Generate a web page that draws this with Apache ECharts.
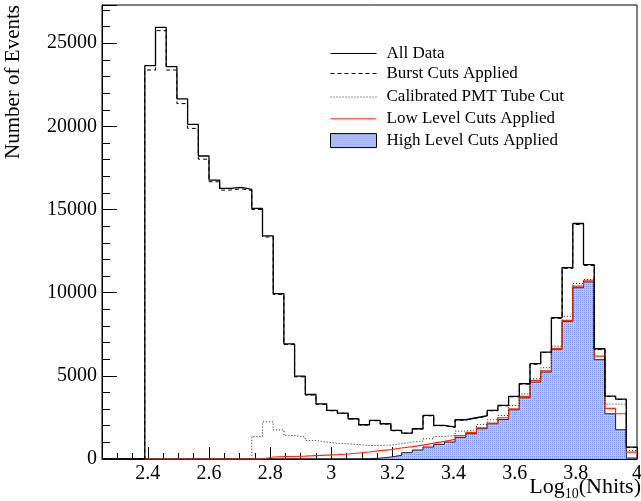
<!DOCTYPE html>
<html>
<head>
<meta charset="utf-8">
<script src="https://cdn.jsdelivr.net/npm/echarts@6/dist/echarts.min.js"></script>
<style>
  html, body { margin: 0; padding: 0; background: #fff; }
  #chart { width: 641px; height: 501px; }
</style>
</head>
<body>
<div id="chart"></div>
<script>
// binning: 50 bins of 0.035 from 2.25 to 4.0
const binStart = 2.25;
const binWidth = 0.035;
const xTickLabels = [2.4, 2.6, 2.8, 3, 3.2, 3.4, 3.6, 3.8, 4];

const allData = [
  0, 0, 0, 0, 23650, 25960, 23600, 21650, 20120, 18220,
  16770, 16270, 16330, 16210, 15070, 13420, 9950, 6920, 4980, 3880,
  3320, 2920, 2760, 2420, 2060, 2320, 2120, 1720, 1560, 1820,
  2620, 2020, 1920, 2360, 2480, 2600, 2920, 3220, 3760, 4530,
  5730, 6430, 8500, 11510, 14160, 11690, 6630, 3780, 3600, 710
];
const burstCuts = [
  0, 0, 0, 0, 23390, 25760, 23390, 21370, 19880, 18030,
  16670, 16170, 16250, 16140, 15000, 13350, 9900, 6880, 4940, 3850,
  3290, 2900, 2740, 2400, 2040, 2300, 2100, 1700, 1550, 1800,
  2600, 2000, 1900, 2340, 2460, 2580, 2900, 3200, 3740, 4500,
  5700, 6400, 8460, 11460, 14100, 11640, 6600, 3760, 3580, 700
];
const pmtCut = [
  0, 0, 0, 0, 0, 0, 0, 0, 0, 0,
  0, 0, 0, 0, 1355, 2230, 1750, 1415, 1315, 1110,
  1015, 950, 915, 870, 810, 810, 840, 915, 1015, 1075,
  1215, 1355, 1415, 1675, 1760, 2080, 2360, 2620, 3220, 3920,
  4830, 5490, 6790, 8580, 10550, 10790, 6570, 3300, 3300, 510
];
const lowLevel = [
  0, 0, 0, 0, 0, 0, 0, 0, 0, 0,
  0, 0, 0, 0, 0, 120, 140, 150, 170, 200,
  230, 260, 300, 360, 420, 500, 560, 660, 740, 830,
  950, 1060, 1180, 1400, 1600, 1880, 2160, 2480, 3020, 3760,
  4730, 5300, 6650, 8340, 10400, 10750, 6190, 3050, 2720, 410
];
const highLevel = [
  0, 0, 0, 0, 0, 0, 0, 0, 0, 0,
  0, 0, 0, 0, 0, 0, 0, 0, 0, 0,
  0, 0, 0, 0, 20, 50, 120, 220, 380, 540,
  720, 880, 1020, 1300, 1520, 1820, 2120, 2380, 2960, 3680,
  4630, 5230, 6600, 8280, 10300, 10650, 5970, 2720, 1760, 60
];

// turn bin contents into step points (left edge of each bin + closing point)
const toSteps = (vals) => {
  const pts = vals.map((v, i) => [+(binStart + i * binWidth).toFixed(4), v]);
  pts.push([+(binStart + vals.length * binWidth).toFixed(4), vals[vals.length - 1]]);
  return pts;
};

// hatched blue fill like the ROOT fill style
const tex = document.createElement('canvas');
tex.width = 2; tex.height = 2;
const tc = tex.getContext('2d');
tc.fillStyle = '#b9c7f7';
tc.fillRect(0, 0, 2, 2);
tc.fillStyle = '#7f96ec';
tc.fillRect(0, 0, 1, 1);
const blueFill = { image: tex, repeat: 'repeat' };

const font = 'Liberation Serif';
const chart = echarts.init(document.getElementById('chart'));

const lineSeries = (name, vals, style, z) => ({
  name: name,
  type: 'line',
  step: 'end',
  symbol: 'none',
  clip: false,
  z: z,
  lineStyle: style,
  itemStyle: { color: style.color },
  data: toSteps(vals)
});

const legendText = { fontFamily: font, fontSize: 17, lineHeight: 14, color: '#000', padding: [0, 0, 0, 5] };

chart.setOption({
  animation: false,
  backgroundColor: '#fff',
  textStyle: { fontFamily: font },
  grid: {
    left: 102, right: 4, top: 5, bottom: 42,
    outerBoundsMode: 'none',
    show: true, borderColor: '#000', borderWidth: 1
  },
  legend: [
    {
      left: 325, top: 40, orient: 'vertical', itemWidth: 46, itemHeight: 14, itemGap: 3,
      selectedMode: false,
      textStyle: legendText,
      data: [
        { name: 'All Data', itemStyle: { opacity: 0 }, lineStyle: { width: 1 } },
        { name: 'Burst Cuts Applied', itemStyle: { opacity: 0 }, lineStyle: { width: 1 } }
      ]
    },
    {
      left: 325, top: 83.5, orient: 'vertical', itemWidth: 46, itemHeight: 14, itemGap: 4.8,
      selectedMode: false,
      textStyle: legendText,
      data: [
        { name: 'Calibrated PMT Tube Cut', itemStyle: { opacity: 0 }, lineStyle: { width: 1 } },
        { name: 'Low Level Cuts Applied', itemStyle: { opacity: 0 }, lineStyle: { width: 1 } },
        { name: 'High Level Cuts Applied', icon: 'rect',
          itemStyle: { color: blueFill, borderColor: '#000', borderWidth: 1 } }
      ]
    }
  ],
  xAxis: [
    {
      type: 'value', min: 2.25, max: 4.0, interval: 0.05,
      axisLine: { show: true, lineStyle: { color: '#000', width: 1 } },
      axisTick: { show: true, inside: true, length: 6, lineStyle: { color: '#000' } },
      axisLabel: { show: false },
      splitLine: { show: false }
    },
    {
      type: 'value', min: 2.25, max: 4.0, position: 'bottom',
      axisLine: { show: false },
      axisTick: { show: true, inside: true, length: 12, customValues: xTickLabels, lineStyle: { color: '#000' } },
      axisLabel: {
        show: true, customValues: xTickLabels, margin: 5,
        fontFamily: font, fontSize: 20, color: '#000',
        formatter: (v) => (Math.abs(v - Math.round(v)) < 1e-6 ? String(Math.round(v)) : v.toFixed(1))
      },
      splitLine: { show: false }
    }
  ],
  yAxis: {
    type: 'value', min: 0, max: 27300, interval: 5000,
    axisLine: { show: true, lineStyle: { color: '#000', width: 1 } },
    axisTick: { show: true, inside: true, length: 15, lineStyle: { color: '#000' } },
    minorTick: { show: true, splitNumber: 5, length: 8, lineStyle: { color: '#000' } },
    axisLabel: {
      margin: 5, fontFamily: font, fontSize: 20, color: '#000',
      showMaxLabel: false,
      formatter: (v) => String(v)
    },
    splitLine: { show: false },
    minorSplitLine: { show: false }
  },
  graphic: [
    {
      type: 'text', x: 3, y: 5, rotation: Math.PI / 2,
      style: {
        text: 'Number of Events', fontFamily: font, fontSize: 21, fill: '#000',
        align: 'right', verticalAlign: 'top'
      }
    },
    {
      type: 'text', x: 641, y: 476,
      style: {
        text: '{a|Log}{s|10}{a|(Nhits)}',
        align: 'right', verticalAlign: 'top',
        rich: {
          a: { fontFamily: font, fontSize: 22, fill: '#000', lineHeight: 22 },
          s: { fontFamily: font, fontSize: 14, fill: '#000', lineHeight: 22, padding: [15, 0, 0, 0] }
        }
      }
    }
  ],
  series: [
    {
      name: 'High Level Cuts Applied',
      type: 'line',
      step: 'end',
      symbol: 'none',
      clip: false,
      z: 2,
      lineStyle: { color: '#1b1b3a', width: 1 },
      itemStyle: { color: blueFill, borderColor: '#000', borderWidth: 1 },
      areaStyle: { color: blueFill, opacity: 1 },
      data: toSteps(highLevel)
    },
    lineSeries('Low Level Cuts Applied', lowLevel, { color: '#ff2a00', width: 1.2 }, 3),
    lineSeries('Calibrated PMT Tube Cut', pmtCut, { color: '#222', width: 1, type: [1, 2] }, 4),
    lineSeries('Burst Cuts Applied', burstCuts, { color: '#000', width: 1, type: [4, 3] }, 5),
    lineSeries('All Data', allData, { color: '#000', width: 1.3 }, 6)
  ]
});
</script>
</body>
</html>
